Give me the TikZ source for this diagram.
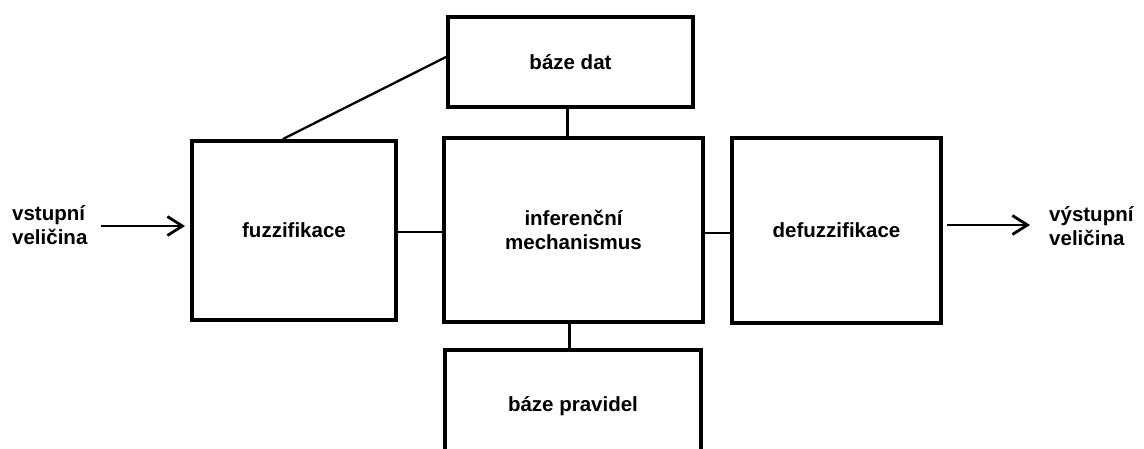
\documentclass[tikz,border=0pt]{standalone}
\usepackage{fontspec}
\setmainfont{Liberation Sans}
\usetikzlibrary{arrows.meta,calc}
\begin{document}
\begin{tikzpicture}[x=1pt,y=-1pt,
  block/.style={draw=black, line width=4pt, rectangle, inner sep=0pt, align=center,
    font=\fontsize{20.5}{24}\selectfont\bfseries},
  lbl/.style={inner sep=0pt, align=left, anchor=west,
    font=\fontsize{20.5}{24.5}\selectfont\bfseries},
  link/.style={line width=2.3pt},
  flow/.style={line width=2.8pt, -{Straight Barb[length=15pt,width=19pt,line width=2.8pt]}}
]
\useasboundingbox (0,0) rectangle (1144,448);
\clip (0,0) rectangle (1144,448);
\fill[white] (0,0) rectangle (1144,448);

\node[block, minimum width=204pt, minimum height=179pt] (fuzz) at (294,230.5) {fuzzifikace};
\node[block, minimum width=259pt, minimum height=184pt] (inf) at (573.5,230) {inferenční\\mechanismus};
\node[block, minimum width=209pt, minimum height=185pt] (defuzz) at (836.5,230.5) {defuzzifikace};
\node[block, minimum width=245pt, minimum height=90pt] (bdat) at (570.5,62) {báze dat};
\node[block, minimum width=256pt, minimum height=112pt] (bprav) at (573,406) {báze pravidel};

\node[lbl] (in) at (12,225) {vstupní\\veličina};
\node[lbl] (out) at (1049,226) {výstupní\\veličina};

\coordinate (inA) at (101,226);
\coordinate (outA) at (947,225);
\coordinate (outB) at (1030,225);

\coordinate (c1) at ($(fuzz.north west)+(93,0)$);
\coordinate (c2) at ($(bdat.west)+(0,-5)$);
\coordinate (c3) at ($(bdat.south)+(-3,0)$);
\coordinate (c4) at ($(fuzz.east)+(0,1.5)$);
\coordinate (c5) at ($(inf.east)+(0,3)$);
\coordinate (c6) at ($(inf.south)+(-4,0)$);

\draw[flow] (inA) -- (fuzz.west |- inA) [shorten >=5pt];
\draw[flow] (outA) -- (outB);

\draw[link] (c1) -- (c2);
\draw[link] (c3) -- (c3 |- inf.north);
\draw[link] (c4) -- (c4 -| inf.west);
\draw[link] (c5) -- (c5 -| defuzz.west);
\draw[link] (c6) -- (c6 |- bprav.north);
\end{tikzpicture}
\end{document}
